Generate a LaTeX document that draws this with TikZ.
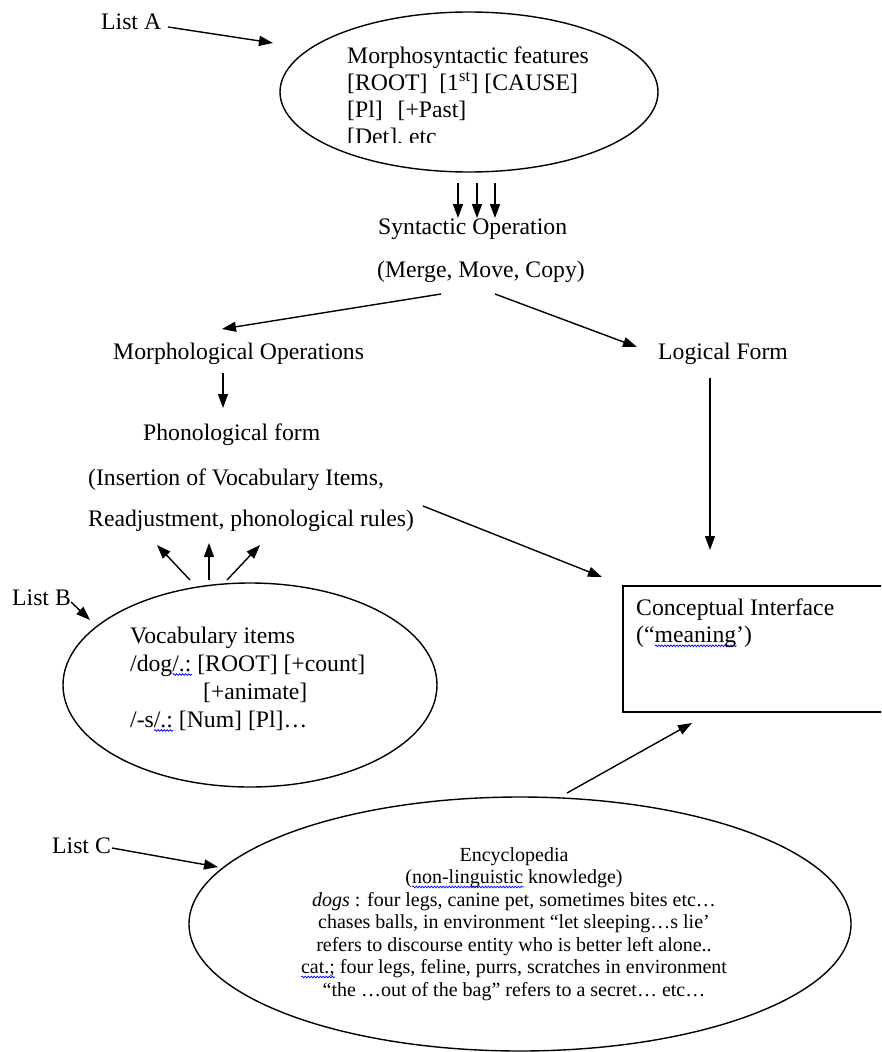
\documentclass[tikz,border=0pt]{standalone}
\usepackage{fontspec}
\setmainfont{Liberation Serif}
\usetikzlibrary{arrows.meta,shapes.geometric,decorations.pathmorphing}
\newsavebox\wvbox
\newlength\wvlen
\newcommand\bwave[1]{\sbox\wvbox{#1}\setlength\wvlen{\wd\wvbox}\rlap{\tikz[baseline=0pt]\draw[blue,line width=0.7pt,decorate,decoration={snake,amplitude=0.9pt,segment length=3pt}] (0pt,-3.5pt) -- (\wvlen,-3.5pt);}\usebox\wvbox}
\newcommand\mainsize{\fontsize{23.7}{27.3}\selectfont}
\newcommand\vocsize{\fontsize{23.7}{28}\selectfont}
\newcommand\encsize{\fontsize{20}{22.5}\selectfont}
\begin{document}
\begin{tikzpicture}[x=1pt,y=-1pt,
  txt/.style={inner sep=0pt, font=\mainsize, anchor=base west},
  arr/.style={line width=1.4pt, -{Triangle[length=14pt,width=10pt]}},
  oval/.style={ellipse, draw, line width=1.4pt, inner sep=0pt},
]
\useasboundingbox (0,0) rectangle (881,1052);
\clip (0,0) rectangle (881,1052);

% List A and morphosyntactic features
\node[txt] (listA) at (101,29) {List A};
\node[oval, minimum width=378pt, minimum height=160pt] (ms) at (469,92) {};
\begin{scope}
  \clip (330,20) rectangle (660,142);
  \node[txt] (mstext) at (347,63) {\begin{tabular}[t]{@{}l@{}}Morphosyntactic features\\{}[ROOT]\ \ [1\textsuperscript{st}] [CAUSE]\\{}[Pl]\hspace{15pt}[+Past]\\{}[Det], etc\end{tabular}};
\end{scope}
\coordinate (la1) at (168,27);
\coordinate (la2) at (273,43);
\draw[arr] (la1) -- (la2);

% three arrows into syntactic operation
\coordinate (d1a) at (458,183); \coordinate (d1b) at (458,218);
\coordinate (d2a) at (477,183); \coordinate (d2b) at (477,218);
\coordinate (d3a) at (495,183); \coordinate (d3b) at (495,218);
\draw[arr] (d1a) -- (d1b);
\draw[arr] (d2a) -- (d2b);
\draw[arr] (d3a) -- (d3b);

\node[txt] (synop) at (378,234) {Syntactic Operation};
\node[txt] (merge) at (377,277) {(Merge, Move, Copy)};

\node[txt] (morph) at (113,359) {Morphological Operations};
\node[txt] (lf) at (658,359) {Logical Form};
\coordinate (m1) at (441,294); \coordinate (m2) at (222,329);
\coordinate (l1) at (495,294); \coordinate (l2) at (637,347);
\draw[arr] (m1) -- (m2);
\draw[arr] (l1) -- (l2);

\coordinate (p1) at (223,373); \coordinate (p2) at (223,408);
\draw[arr] (p1) -- (p2);
\coordinate (lfa) at (710,378); \coordinate (lfb) at (710,550);
\draw[arr] (lfa) -- (lfb);

\node[txt] (phon) at (143,440) {Phonological form};
\node[txt] (ins) at (88,485) {(Insertion of Vocabulary Items,};
\node[txt] (readj) at (88,526) {Readjustment, phonological rules)};
\coordinate (r1) at (423,506); \coordinate (r2) at (602,577);
\draw[arr] (r1) -- (r2);

% up arrows
\coordinate (u1a) at (190,580); \coordinate (u1b) at (157,545);
\coordinate (u2a) at (209,580); \coordinate (u2b) at (209,543);
\coordinate (u3a) at (227,580); \coordinate (u3b) at (260,545);
\draw[arr] (u1a) -- (u1b);
\draw[arr] (u2a) -- (u2b);
\draw[arr] (u3a) -- (u3b);

% List B and vocabulary items
\node[txt] (listB) at (12,605) {List B};
\coordinate (lb1) at (71,602); \coordinate (lb2) at (90,620);
\draw[arr] (lb1) -- (lb2);
\node[oval, minimum width=374pt, minimum height=204pt] (vi) at (250,685) {};
\node[txt, font=\vocsize] (vitext) at (130,643) {\begin{tabular}[t]{@{}l@{}}Vocabulary items\\/dog\bwave{/.:} [ROOT] [+count]\\\hspace{73pt}[+animate]\\/-s\bwave{/.:} [Num] [Pl]\ldots\end{tabular}};

% conceptual interface
\node[draw, line width=1.9pt, inner sep=0pt, minimum width=290pt, minimum height=126pt, anchor=north west] (ci) at (622,585) {};
\node[txt] (citext) at (636,615) {\begin{tabular}[t]{@{}l@{}}Conceptual Interface\\(``\bwave{meaning}')\end{tabular}};

% List C and encyclopedia
\node[txt] (listC) at (52,853) {List C};
\coordinate (lc1) at (112,848); \coordinate (lc2) at (218,867);
\draw[arr] (lc1) -- (lc2);
\node[oval, minimum width=662pt, minimum height=254pt] (enc) at (520,924) {};
\node[inner sep=0pt, anchor=base, font=\encsize] (enctext) at (514,861) {\begin{tabular}[t]{@{}c@{}}Encyclopedia\\(\bwave{non-linguistic} knowledge)\\\textit{dogs} : four legs, canine pet, sometimes bites etc\ldots\\chases balls, in environment ``let sleeping\ldots s lie'\\refers to discourse entity who is better left alone..\\\bwave{cat.;} four legs, feline, purrs, scratches in environment\\``the \ldots out of the bag'' refers to a secret\ldots\ etc\ldots\end{tabular}};
\coordinate (e1) at (567,793); \coordinate (e2) at (692,723);
\draw[arr] (e1) -- (e2);
\end{tikzpicture}
\end{document}
